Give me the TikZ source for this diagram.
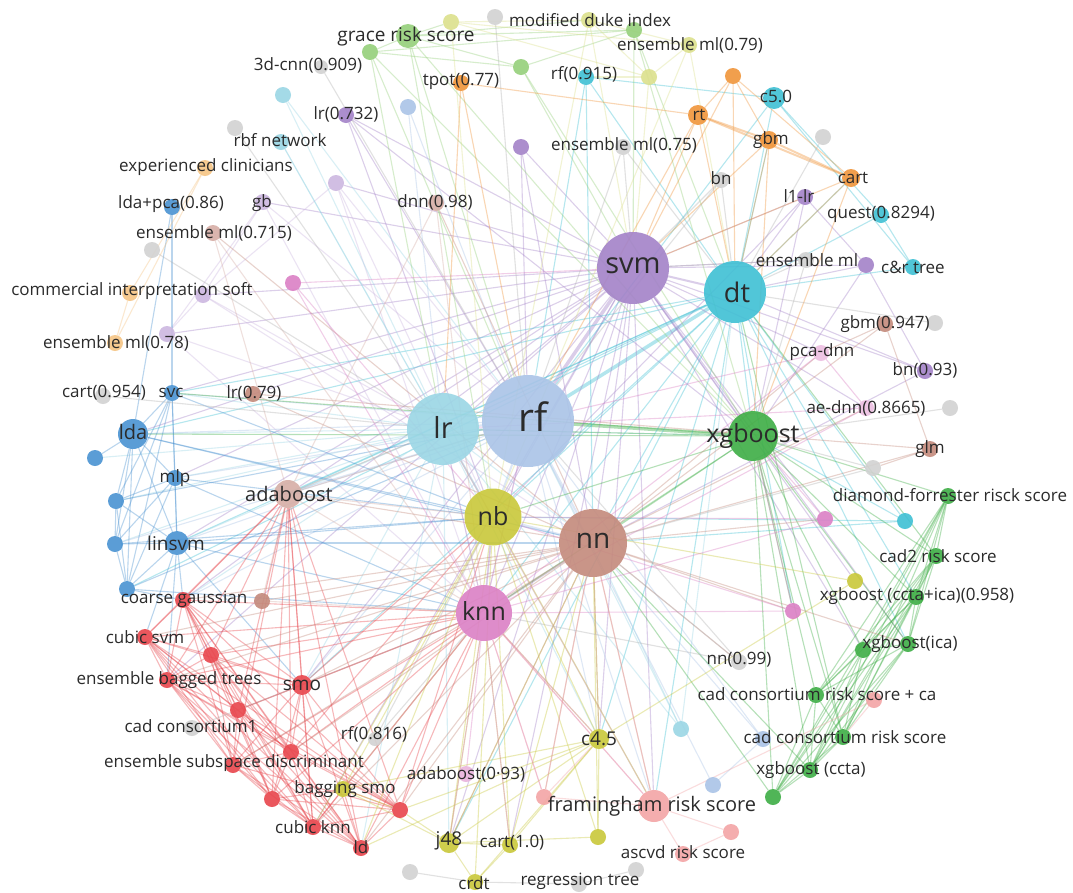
\documentclass[tikz,border=0pt]{standalone}
\usepackage{fontspec}
\setmainfont{Open Sans}
\usepackage{tikz}
\usetikzlibrary{backgrounds}
\definecolor{cSvm}{HTML}{A382C8}
\definecolor{cDt}{HTML}{3FC0D4}
\definecolor{cLr}{HTML}{9BD6E5}
\definecolor{cRf}{HTML}{AAC4E7}
\definecolor{cXgb}{HTML}{3EAE45}
\definecolor{cNb}{HTML}{C9C83A}
\definecolor{cNn}{HTML}{C48A7C}
\definecolor{cKnn}{HTML}{DB80C5}
\definecolor{cAda}{HTML}{D6AEA6}
\definecolor{cLda}{HTML}{4A93D2}
\definecolor{cRed}{HTML}{E8454C}
\definecolor{cFram}{HTML}{F3A5A6}
\definecolor{cOr}{HTML}{F0953A}
\definecolor{cGrey}{HTML}{D2D2D2}
\definecolor{cLor}{HTML}{F6C585}
\definecolor{cLpu}{HTML}{CDB8E0}
\definecolor{cLy}{HTML}{DCE08C}
\definecolor{cLg}{HTML}{95D07A}
\definecolor{txtgray}{HTML}{2B2B2B}

\begin{document}
\begin{tikzpicture}[x=1pt, y=-1pt,
    vtx/.style={circle, inner sep=0pt, minimum size=#1, fill opacity=.9},
    vtx/.default=16,
    lbl/.style={font=\fontsize{17}{17}\selectfont, text=txtgray, inner sep=0pt},
    mlbl/.style={font=\fontsize{19}{19}\selectfont, text=txtgray, inner sep=0pt},
    hlbl/.style={font=\fontsize{#1}{#1}\selectfont, text=txtgray, inner sep=0pt},
    ln/.style={line width=1.1pt, draw opacity=.38},
    mid/.style={line width=2pt, draw opacity=.4},
    fat/.style={line width=3.5pt, draw opacity=.4}]
  \useasboundingbox (0,0) rectangle (1073,892);

  % hubs
  \node[vtx=72, fill=cSvm] (svm) at (633,268) {};
  \node[vtx=62, fill=cDt] (dt) at (735,292) {};
  \node[vtx=72, fill=cLr] (lr) at (443,429) {};
  \node[vtx=92, fill=cRf] (rf) at (528,421) {};
  \node[vtx=50, fill=cXgb] (xgb) at (753,436) {};
  \node[vtx=57, fill=cNb] (nb) at (493,517) {};
  \node[vtx=68, fill=cNn] (nn) at (593,543) {};
  \node[vtx=56, fill=cKnn] (knn) at (484,613) {};
  \node[vtx=28, fill=cAda] (ada) at (288,494) {};
  \node[vtx=30, fill=cLda] (lda) at (133,434) {};
  \node[vtx=32, fill=cFram] (fram) at (654,806) {};
  \node[vtx=24, fill=cLda] (linsvm) at (177,543) {};

  % blue group
  \node[vtx, fill=cLda] (mlp) at (175,478) {};
  \node[vtx, fill=cLda] (svc) at (172,393) {};
  \node[vtx, fill=cLda] (bl1) at (95,458) {};
  \node[vtx, fill=cLda] (bl2) at (116,501) {};
  \node[vtx, fill=cLda] (bl3) at (115,544) {};
  \node[vtx, fill=cLda] (bl4) at (127,589) {};
  \node[vtx, fill=cLda] (ldapca) at (172,207) {};

  % red group
  \node[vtx, fill=cRed] (cg) at (183,600) {};
  \node[vtx, fill=cRed] (cs) at (145,637) {};
  \node[vtx, fill=cRed] (rd1) at (211,655) {};
  \node[vtx, fill=cRed] (ebt) at (167,680) {};
  \node[vtx=20, fill=cRed] (smo) at (302,685) {};
  \node[vtx, fill=cRed] (rd2) at (238,710) {};
  \node[vtx, fill=cRed] (esd) at (233,765) {};
  \node[vtx, fill=cRed] (rd3) at (291,752) {};
  \node[vtx, fill=cRed] (rd4) at (272,799) {};
  \node[vtx, fill=cRed] (ck) at (313,827) {};
  \node[vtx, fill=cRed] (ld) at (361,848) {};
  \node[vtx, fill=cRed] (rd5) at (400,810) {};
  \node[vtx, fill=cGrey] (cc1) at (192,728) {};

  % bottom
  \node[vtx, fill=cNb] (bsmo) at (343,789) {};
  \node[vtx=14, fill=cGrey] (rf816) at (375,739) {};
  \node[vtx, fill=cKnn!60] (ada93) at (466,774) {};
  \node[vtx=20, fill=cNb] (j48) at (449,843) {};
  \node[vtx, fill=cNb] (cart10) at (510,845) {};
  \node[vtx, fill=cNb] (crdt) at (475,882) {};
  \node[vtx, fill=cGrey] (gr1) at (410,872) {};
  \node[vtx, fill=cGrey] (regt) at (579,884) {};
  \node[vtx, fill=cGrey] (gr2) at (636,870) {};
  \node[vtx=20, fill=cNb] (c45) at (599,739) {};
  \node[vtx, fill=cNb] (yl1) at (598,837) {};
  \node[vtx, fill=cLr] (cy1) at (681,729) {};
  \node[vtx, fill=cRf] (lb1) at (713,785) {};
  \node[vtx, fill=cFram] (pk1) at (544,797) {};
  \node[vtx, fill=cFram] (pk2) at (731,832) {};
  \node[vtx, fill=cFram] (ascvd) at (683,854) {};
  \node[vtx, fill=cGrey] (nn99) at (739,662) {};

  % bottom right
  \node[vtx, fill=cXgb] (ccrsca) at (816,695) {};
  \node[vtx, fill=cFram] (pk3) at (874,700) {};
  \node[vtx, fill=cXgb] (ccrs) at (843,737) {};
  \node[vtx, fill=cRf] (lb2) at (763,739) {};
  \node[vtx, fill=cXgb] (xccta) at (810,770) {};
  \node[vtx, fill=cXgb] (gn1) at (773,797) {};
  \node[vtx, fill=cXgb] (xica) at (908,644) {};
  \node[vtx, fill=cXgb] (gn2) at (863,650) {};
  \node[vtx, fill=cXgb] (xcctaica) at (916,597) {};
  \node[vtx, fill=cNb] (yl2) at (855,581) {};
  \node[vtx, fill=cXgb] (cad2) at (936,556) {};
  \node[vtx, fill=cXgb] (dfrs) at (948,496) {};
  \node[vtx, fill=cDt] (cy2) at (905,521) {};
  \node[vtx, fill=cKnn] (pk4) at (825,519) {};
  \node[vtx, fill=cKnn] (pk6) at (793,611) {};

  % right
  \node[vtx, fill=cGrey] (gr3) at (873,468) {};
  \node[vtx, fill=cNn] (glm) at (930,449) {};
  \node[vtx, fill=cKnn!50] (aednn) at (866,408) {};
  \node[vtx, fill=cGrey] (gr4) at (950,408) {};
  \node[vtx, fill=cSvm] (bn93) at (925,371) {};
  \node[vtx, fill=cKnn!50] (pcadnn) at (821,353) {};
  \node[vtx, fill=cNn] (gbm947) at (885,324) {};
  \node[vtx, fill=cGrey] (gr5) at (935,323) {};
  \node[vtx, fill=cDt] (crtree) at (913,267) {};
  \node[vtx, fill=cSvm] (pu1) at (866,265) {};
  \node[vtx, fill=cGrey] (ensml) at (806,260) {};
  \node[vtx, fill=cDt] (quest) at (881,215) {};
  \node[vtx, fill=cSvm] (l1lr) at (805,197) {};

  % top right
  \node[vtx=18, fill=cOr] (cart) at (851,178) {};
  \node[vtx, fill=cGrey] (gr6) at (823,137) {};
  \node[vtx=18, fill=cOr] (gbm) at (769,140) {};
  \node[vtx=20, fill=cOr] (rt) at (698,115) {};
  \node[vtx, fill=cOr] (or1) at (733,76) {};
  \node[vtx=22, fill=cDt] (c50) at (774,98) {};
  \node[vtx, fill=cGrey] (bn) at (721,180) {};
  \node[vtx, fill=cGrey] (ensml75) at (623,147) {};
  \node[vtx, fill=cDt] (rf915) at (586,77) {};
  \node[vtx, fill=cLy] (yl3) at (649,77) {};
  \node[vtx, fill=cLy] (ensml79) at (689,45) {};
  \node[vtx, fill=cLg] (gn3) at (634,30) {};
  \node[vtx, fill=cLy] (yl4) at (589,20) {};
  \node[vtx, fill=cGrey] (gr7) at (495,17) {};
  \node[vtx, fill=cLy] (yl5) at (451,22) {};

  % top left
  \node[vtx=24, fill=cLg] (grace) at (408,36) {};
  \node[vtx, fill=cLg] (gn4) at (370,52) {};
  \node[vtx, fill=cLg] (gn5) at (521,67) {};
  \node[vtx=14, fill=cGrey] (cnn) at (321,67) {};
  \node[vtx, fill=cOr] (tpot) at (461,83) {};
  \node[vtx, fill=cSvm] (lr732) at (346,115) {};
  \node[vtx, fill=cRf] (lb3) at (408,107) {};
  \node[vtx, fill=cLr] (cy3) at (283,95) {};
  \node[vtx, fill=cLr] (rbf) at (281,142) {};
  \node[vtx, fill=cGrey] (gr8) at (235,128) {};
  \node[vtx, fill=cLor] (expc) at (205,168) {};
  \node[vtx, fill=cSvm] (pu2) at (521,147) {};
  \node[vtx, fill=cLpu] (pu3) at (336,183) {};
  \node[vtx, fill=cLpu] (gb) at (263,202) {};
  \node[vtx, fill=cAda] (ensml715) at (213,233) {};
  \node[vtx, fill=cGrey] (gr9) at (152,250) {};
  \node[vtx, fill=cAda] (dnn98) at (436,203) {};
  \node[vtx, fill=cKnn] (pk5) at (293,283) {};
  \node[vtx, fill=cLor] (cis) at (130,293) {};
  \node[vtx, fill=cLpu] (pu4) at (203,295) {};
  \node[vtx, fill=cLor] (ensml78) at (115,343) {};
  \node[vtx, fill=cLpu] (pu5) at (167,334) {};
  \node[vtx, fill=cGrey] (cart954) at (103,396) {};
  \node[vtx, fill=cNn] (lr79) at (253,394) {};
  \node[vtx, fill=cNn] (br1) at (262,601) {};

  % labels
  \node[hlbl=29] (svm-t) at (633,266) {svm};
  \node[hlbl=27] (dt-t) at (737,292) {dt};
  \node[hlbl=29] (lr-t) at (443,427) {lr};
  \node[hlbl=39] (rf-t) at (533,417) {rf};
  \node[hlbl=25] (xgb-t) at (753,436) {xgboost};
  \node[hlbl=25] (nb-t) at (493,516) {nb};
  \node[hlbl=28] (nn-t) at (593,541) {nn};
  \node[hlbl=25] (knn-t) at (484,611) {knn};
  \node[hlbl=20] (ada-t) at (289,494) {adaboost};
  \node[hlbl=20] (lda-t) at (133,432) {lda};
  \node[hlbl=20] (fram-t) at (652,806) {framingham risk score};
  \node[mlbl] (linsvm-t) at (176,543) {linsvm};
  \node[lbl] (mlp-t) at (175,478) {mlp};
  \node[lbl] (svc-t) at (171,393) {svc};
  \node[lbl] (ldapca-t) at (171,204) {lda+pca(0.86)};
  \node[lbl] (cg-t) at (184,599) {coarse gaussian};
  \node[lbl] (cs-t) at (145,637) {cubic svm};
  \node[lbl] (ebt-t) at (169,680) {ensemble bagged trees};
  \node[mlbl] (smo-t) at (302,685) {smo};
  \node[lbl] (cc1-t) at (191,726) {cad consortium1};
  \node[lbl] (esd-t) at (234,763) {ensemble subspace discriminant};
  \node[lbl] (rf816-t) at (374,734) {rf(0.816)};
  \node[lbl] (ada93-t) at (466,774) {adaboost(0·93)};
  \node[lbl] (bsmo-t) at (345,789) {bagging smo};
  \node[lbl] (ck-t) at (313,827) {cubic knn};
  \node[lbl] (ld-t) at (361,847) {ld};
  \node[mlbl] (j48-t) at (449,841) {j48};
  \node[lbl] (cart10-t) at (512,843) {cart(1.0)};
  \node[lbl] (crdt-t) at (474,883) {crdt};
  \node[lbl] (regt-t) at (580,881) {regression tree};
  \node[mlbl] (c45-t) at (599,739) {c4.5};
  \node[lbl] (ascvd-t) at (683,852) {ascvd risk score};
  \node[lbl] (nn99-t) at (739,660) {nn(0.99)};
  \node[lbl] (ccrsca-t) at (817,694) {cad consortium risk score + ca};
  \node[lbl] (ccrs-t) at (845,737) {cad consortium risk score};
  \node[lbl] (xccta-t) at (811,770) {xgboost (ccta)};
  \node[lbl] (xica-t) at (910,644) {xgboost(ica)};
  \node[lbl] (xcctaica-t) at (917,596) {xgboost (ccta+ica)(0.958)};
  \node[lbl] (cad2-t) at (938,556) {cad2 risk score};
  \node[lbl] (dfrs-t) at (950,495) {diamond-forrester risck score};
  \node[lbl] (glm-t) at (930,449) {glm};
  \node[lbl] (aednn-t) at (866,408) {ae-dnn(0.8665)};
  \node[lbl] (bn93-t) at (925,370) {bn(0.93)};
  \node[lbl] (pcadnn-t) at (822,352) {pca-dnn};
  \node[lbl] (gbm947-t) at (885,324) {gbm(0.947)};
  \node[lbl] (crtree-t) at (913,267) {c\&r tree};
  \node[lbl] (ensml-t) at (807,260) {ensemble ml};
  \node[lbl] (quest-t) at (881,214) {quest(0.8294)};
  \node[lbl] (l1lr-t) at (799,196) {l1-lr};
  \node[lbl] (cart-t) at (853,178) {cart};
  \node[lbl] (gbm-t) at (771,140) {gbm};
  \node[lbl] (rt-t) at (699,115) {rt};
  \node[lbl] (c50-t) at (776,96) {c5.0};
  \node[lbl] (bn-t) at (721,178) {bn};
  \node[lbl] (ensml75-t) at (624,145) {ensemble ml(0.75)};
  \node[lbl] (rf915-t) at (584,74) {rf(0.915)};
  \node[lbl] (ensml79-t) at (690,45) {ensemble ml(0.79)};
  \node[lbl] (mdi-t) at (590,20) {modified duke index};
  \node[mlbl] (grace-t) at (406,37) {grace risk score};
  \node[lbl] (cnn-t) at (308,65) {3d-cnn(0.909)};
  \node[lbl] (tpot-t) at (461,81) {tpot(0.77)};
  \node[lbl] (lr732-t) at (346,114) {lr(0.732)};
  \node[lbl] (rbf-t) at (280,140) {rbf network};
  \node[lbl] (expc-t) at (206,167) {experienced clinicians};
  \node[lbl] (gb-t) at (262,203) {gb};
  \node[lbl] (ensml715-t) at (214,233) {ensemble ml(0.715)};
  \node[lbl] (dnn98-t) at (435,202) {dnn(0.98)};
  \node[lbl] (cis-t) at (132,291) {commercial interpretation soft};
  \node[lbl] (ensml78-t) at (116,343) {ensemble ml(0.78)};
  \node[lbl] (cart954-t) at (104,393) {cart(0.954)};
  \node[lbl] (lr79-t) at (254,393) {lr(0.79)};

  \begin{scope}[on background layer]
    \fill[white] (0,0) rectangle (1073,892);
    % links between hubs
    \draw[fat, draw=cSvm] (svm) -- (rf);
    \draw[fat, draw=cDt] (dt) -- (rf);
    \draw[fat, draw=cXgb] (xgb) -- (rf);
    \draw[mid, draw=cSvm] (svm) -- (dt);
    \foreach \a/\b in {lr/rf, nb/rf, nn/rf, knn/nb, nn/nb, lr/nb, knn/nn}
      \draw[mid, draw=cRf] (\a) -- (\b);
    % purple
    \foreach \a/\b in {svm/nb, svm/nn, svm/knn, svm/xgb, svm/lda, svm/svc, svm/linsvm, svm/mlp,
        svm/ada, svm/smo, svm/cg, svm/c45, svm/fram, svm/j48, svm/ensml, svm/pcadnn, svm/aednn,
        svm/pk4, svm/xica, svm/cart10, svm/ck, svm/ebt, svm/pu2, svm/l1lr, svm/bn93, svm/pu1,
        svm/gb, svm/pu3, svm/pu4, svm/pu5, svm/lr732, svm/yl2, svm/gn2, svm/lr,
        lr732/nb, lr732/xgb, lr732/rf, pu2/rf, pu2/nn, l1lr/dt, l1lr/pu1, l1lr/xgb, l1lr/nb,
        bn93/dt, bn93/pu1, bn93/nn, pu1/dt, pu1/xgb}
      \draw[ln, draw=cSvm] (\a) -- (\b);
    \foreach \a/\b in {gb/pu4, gb/pu5, gb/rf, gb/knn, pu3/pu4, pu3/rf, pu3/knn, pu3/nb,
        pu4/pu5, pu4/lr, pu4/nn, pu5/lr, pu5/knn}
      \draw[ln, draw=cLpu] (\a) -- (\b);
    % cyan
    \foreach \a/\b in {dt/nb, dt/nn, dt/knn, dt/lr, dt/xgb, dt/c50, dt/quest, dt/crtree, dt/rf915,
        dt/cy2, dt/cart, dt/gbm, dt/c45, dt/lda, dt/svc, dt/fram, dt/ada, dt/smo, dt/linsvm,
        dt/bl4, dt/j48, dt/xica, dt/xcctaica, dt/pk6, c50/rf915, c50/quest, c50/crtree, c50/rf,
        quest/crtree, rf915/nn, rf915/rf, cy2/xgb, cy2/nb, cy2/nn}
      \draw[ln, draw=cDt] (\a) -- (\b);
    % light cyan
    \foreach \a/\b in {lr/nn, lr/knn, lr/xgb, lr/lda, lr/svc, lr/mlp, lr/linsvm, lr/bl1, lr/bl2,
        lr/bl3, lr/ada, lr/cy3, lr/rbf, lr/cy1, lr/fram, lr/c45, lr/smo, lr/cg, lr/j48, lr/ld,
        rbf/nb, cy3/rf, cy1/rf, cy1/dt, cy1/nn}
      \draw[ln, draw=cLr] (\a) -- (\b);
    % light blue
    \foreach \a/\b in {rf/knn, rf/lda, rf/svc, rf/mlp, rf/linsvm, rf/ada, rf/lb3, rf/lb1, rf/lb2,
        rf/fram, rf/smo, rf/c45, rf/cg, rf/bl3, lb3/lr, lb1/lb2, lb2/nn}
      \draw[ln, draw=cRf] (\a) -- (\b);
    % blue
    \foreach \a/\b in {lda/svc, lda/mlp, lda/linsvm, lda/bl1, lda/bl2, lda/bl3, lda/bl4,
        svc/mlp, svc/linsvm, svc/bl2, svc/bl3, svc/bl4, mlp/linsvm, mlp/bl2, mlp/bl3, mlp/bl4,
        linsvm/bl2, linsvm/bl3, linsvm/bl4, bl2/bl3, bl2/bl4, bl3/bl4, ldapca/lda, ldapca/svc,
        lda/nb, lda/nn, svc/nb, mlp/nb, mlp/knn, linsvm/nb, linsvm/nn, linsvm/knn,
        linsvm/cg, linsvm/smo, linsvm/ebt, linsvm/cs, bl2/rf, bl4/rf, bl4/knn, bl4/cg, bl3/nb}
      \draw[ln, draw=cLda] (\a) -- (\b);
    % red
    \foreach \a [count=\i] in {cg,cs,rd1,ebt,smo,rd2,esd,rd3,rd4,ck,ld,rd5}
      \foreach \b [count=\j] in {cg,cs,rd1,ebt,smo,rd2,esd,rd3,rd4,ck,ld,rd5}
        {\ifnum\i<\j \draw[ln, draw=cRed] (\a) -- (\b); \fi}
    \foreach \a in {cg,cs,rd1,ebt,smo,rd2,esd,rd3,rd4,ck,ld,rd5}
      \foreach \b in {knn,ada}
        \draw[ln, draw=cRed] (\a) -- (\b);
    \foreach \a/\b in {rd5/bsmo, ld/bsmo, ck/bsmo, rd4/bsmo, smo/nb, rd5/nb, rd3/nb}
      \draw[ln, draw=cRed] (\a) -- (\b);
    % green
    \foreach \a/\b in {xgb/nn, xgb/nb, xgb/knn, xgb/lr, xgb/lda, xgb/svc, xgb/pk6,
        cad2/dt, ccrs/dt, xccta/nn, gn1/nn}
      \draw[ln, draw=cXgb] (\a) -- (\b);
    \foreach \a [count=\i] in {dfrs,cad2,xcctaica,xica,gn2,ccrsca,ccrs,xccta,gn1}
      {\draw[ln, draw=cXgb] (xgb) -- (\a);
       \foreach \b [count=\j] in {dfrs,cad2,xcctaica,xica,gn2,ccrsca,ccrs,xccta,gn1}
         {\ifnum\i<\j \draw[ln, draw=cXgb] (\a) -- (\b); \fi}}
    % light green
    \foreach \a/\b in {grace/gn4, grace/gn5, grace/gn3, grace/yl5, grace/yl4, grace/xgb,
        grace/nb, grace/rf, gn4/gn5, gn4/gn3, gn4/xgb, gn4/lr, gn4/rf, gn5/gn3, gn5/xgb,
        gn5/svm, gn3/svm, gn3/dt, gn3/xgb}
      \draw[ln, draw=cLg] (\a) -- (\b);
    % light yellow
    \foreach \a/\b in {yl5/yl4, yl5/yl3, yl5/ensml79, yl5/nb, yl4/yl3, yl4/ensml79, yl4/svm,
        yl4/nb, yl3/ensml79, yl3/svm, yl3/rf915, ensml79/dt, ensml79/nb}
      \draw[ln, draw=cLy] (\a) -- (\b);
    % yellow
    \foreach \a/\b in {nb/c45, nb/j48, nb/cart10, nb/crdt, nb/bsmo, nb/yl1, nb/yl2, nb/ld,
        nb/ck, nb/fram, c45/j48, c45/cart10, c45/crdt, c45/yl1, c45/yl2, c45/bsmo, c45/knn,
        c45/nn, c45/rd5, c45/ld, j48/cart10, j48/crdt, j48/yl1, j48/bsmo, j48/rd5, j48/knn,
        j48/nn, cart10/crdt, cart10/knn, cart10/nn, yl1/nn, bsmo/knn, bsmo/rd5}
      \draw[ln, draw=cNb] (\a) -- (\b);
    % orange
    \foreach \a/\b in {rt/tpot, rt/or1, rt/svm, rt/dt, rt/rf, or1/gbm, or1/cart, or1/svm,
        or1/dt, gbm/svm, gbm/dt, gbm/xgb, cart/svm, cart/dt, cart/xgb, tpot/lr, tpot/rf}
      \draw[ln, draw=cOr] (\a) -- (\b);
    \foreach \a/\b in {rt/gbm, gbm/cart, rt/cart}
      \draw[mid, draw=cOr] (\a) -- (\b);
    \foreach \a/\b in {expc/cis, expc/ensml78, cis/ensml78}
      \draw[ln, draw=cLor] (\a) -- (\b);
    % brown
    \foreach \a/\b in {nn/knn, nn/fram, nn/dnn98, nn/gbm947, nn/glm, nn/lr79, nn/ensml715,
        nn/ada, nn/br1, nn/pk1, nn/c45, nn/smo, nn/ck, nn/ld, nn/rd5, nn/rd3, nn/cg, nn/ebt,
        nn/cs, nn/rd1, nn/esd, nn/nn99, nn/pk6, nn/pk4, nn/aednn, nn/pcadnn, nn/xica, nn/j48,
        gbm947/pcadnn, gbm947/glm, glm/gr3, glm/lr79}
      \draw[ln, draw=cNn] (\a) -- (\b);
    \foreach \a/\b in {ada/ensml715, ada/dnn98, ada/knn, ada/nb, ada/lr, ada/rf, dnn98/knn,
        ensml715/knn, br1/knn, br1/ada}
      \draw[ln, draw=cAda] (\a) -- (\b);
    % pink
    \foreach \a/\b in {knn/fram, knn/ada93, knn/pk5, knn/pk6, knn/pk1, knn/bsmo, knn/j48,
        knn/cart10, knn/c45, knn/pk4, knn/aednn, knn/pcadnn, knn/lr, knn/rf, knn/nb,
        pk5/svm, pk5/nb, pk4/xgb, pk4/nb, pk6/xgb, pk6/nb, aednn/pcadnn, aednn/lr, pcadnn/rf}
      \draw[ln, draw=cKnn] (\a) -- (\b);
    \foreach \a/\b in {fram/pk1, fram/pk2, fram/ascvd, fram/pk3, fram/knn, fram/nn, fram/lr,
        pk2/ascvd, pk1/nn, pk1/knn, pk1/c45, pk3/ccrs}
      \draw[ln, draw=cFram] (\a) -- (\b);
    % grey
    \foreach \a/\b in {ensml75/svm, ensml75/rf, ensml75/dt, bn/dt, bn/svm, bn/rf, nn99/nn,
        nn99/rf, nn99/knn, gr3/xgb, gr3/nn, gr4/xgb, gr5/dt, gr6/dt, gr7/rf, gr8/lr, gr9/lr,
        cnn/rf, cart954/lr, cc1/knn, rf816/knn, rf816/nb, gr1/crdt, gr2/regt, regt/crdt,
        ensml/svm, ensml/dt, ensml/xgb}
      \draw[ln, draw=gray!60] (\a) -- (\b);
  \end{scope}
\end{tikzpicture}
\end{document}
